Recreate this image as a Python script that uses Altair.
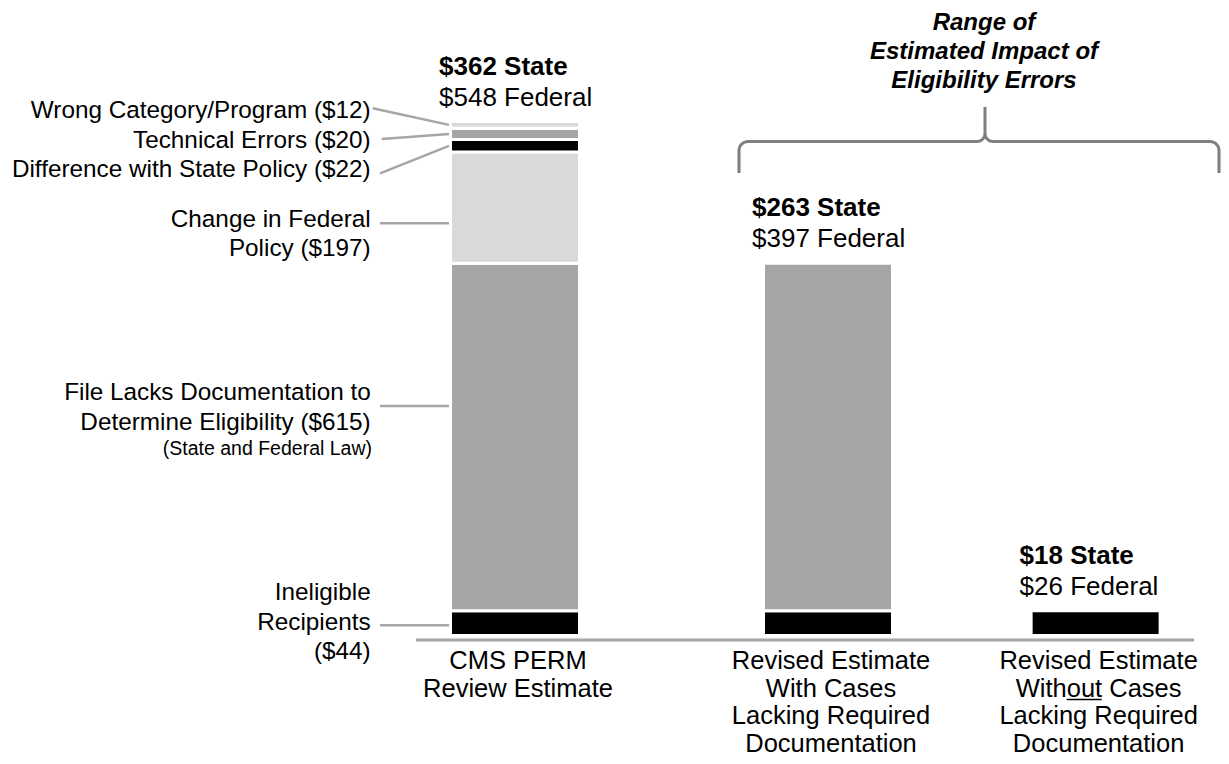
import altair as alt
import pandas as pd
import numpy as np

# ---------------- data ----------------
column_names = [
    "CMS PERM Review Estimate",
    "Revised Estimate With Cases Lacking Required Documentation",
    "Revised Estimate Without Cases Lacking Required Documentation",
]
column_labels = [
    "CMS PERM\nReview Estimate",
    "Revised Estimate\nWith Cases\nLacking Required\nDocumentation",
    "Revised Estimate\nWithout Cases\nLacking Required\nDocumentation",
]
segment_names = [
    "Ineligible Recipients",
    "File Lacks Documentation to Determine Eligibility",
    "Change in Federal Policy",
    "Difference with State Policy",
    "Technical Errors",
    "Wrong Category/Program",
]
segment_colors = ["#000000", "#a6a6a6", "#d9d9d9", "#000000", "#a6a6a6", "#d9d9d9"]
cms_perm_values = [44, 615, 197, 22, 20, 12]
with_docs_values = [44, 615]
without_docs_values = [44]
state_amounts = [362, 263, 18]
federal_amounts = [548, 397, 26]
segment_labels = [
    "Ineligible\nRecipients\n($44)",
    "File Lacks Documentation to\nDetermine Eligibility ($615)",
    "Change in Federal\nPolicy ($197)",
    "Difference with State Policy ($22)",
    "Technical Errors ($20)",
    "Wrong Category/Program ($12)",
]
law_note = "(State and Federal Law)"
brace_title = "Range of\nEstimated Impact of\nEligibility Errors"

# ---------------- layout ----------------
FONT = "Liberation Sans"
W, H = 1213, 748
col_pos = [0.0, 1.0, 1.855]          # column centres in x units
UNIT_PX = 313.0                      # pixels per x unit
CENTER0_PX = 515.0                   # page x of first column centre
ZERO_PX = 635.5                      # page y of $0
PX_PER_USD = 514.0 / 910.0
GAP = 3                              # white gap between stacked pieces
BAR_HALF = 64.5 / UNIT_PX


def xu(page_x):
    return (page_x - CENTER0_PX) / UNIT_PX


def yu(page_y):
    return (ZERO_PX - page_y) / PX_PER_USD


xs = alt.Scale(domain=[xu(8), xu(8 + W)], nice=False, zero=False)
ys = alt.Scale(domain=[yu(8 + H), yu(8)], nice=False, zero=False)

# ---------------- bar table ----------------
rows = []
for ci, vals in enumerate([cms_perm_values, with_docs_values, without_docs_values]):
    base = 0.0
    for si, v in enumerate(vals):
        rows.append(dict(column=column_names[ci], segment=segment_names[si],
                         x0=col_pos[ci] - BAR_HALF, x1=col_pos[ci] + BAR_HALF,
                         y0=base, y1=base + v, mid=base + v / 2))
        base += v
bar_df = pd.DataFrame(rows)

totals = [sum(v) for v in [cms_perm_values, with_docs_values, without_docs_values]]
col_df = pd.DataFrame(dict(
    column=column_names, label=column_labels, x=col_pos, total=totals,
    state=[f"${s} State" for s in state_amounts],
    federal=[f"${f} Federal" for f in federal_amounts],
    zero=[0] * 3,
))

# segment labels on the left (baseline page y of first line)
seg1 = bar_df[bar_df.column == column_names[0]].reset_index(drop=True)
label_baselines = [600, 400, 226.7, 176.7, 148.3, 118.3]
label_df = pd.DataFrame(dict(text=segment_labels, x=[xu(370.7)] * 6,
                             y=[yu(b) for b in label_baselines]))

# leader lines: label end (page px) -> bar end
leader_start = [(380, 625.3), (380, 406), (380, 223.3), (380, 173.3), (381.7, 139), (372.7, 108.3)]
leader_end_y = [yu(625.3), yu(406), yu(223.3), seg1.mid[3], seg1.mid[4], seg1.mid[5]]
leader_df = pd.DataFrame(dict(
    x=[xu(p[0]) for p in leader_start], y=[yu(p[1]) for p in leader_start],
    x2=[xu(449)] * 6, y2=leader_end_y,
))

# brace geometry (page px)
def arc(cx, cy, r, a0, a1, n=10):
    t = np.linspace(a0, a1, n)
    return [(cx + r * np.cos(a), cy + r * np.sin(a)) for a in t]

L, R, MID, HY, TOP, BOT = 739.0, 1219.0, 985.0, 141.5, 107.0, 173.0
pts = [(L, BOT)]
pts += arc(L + 9, HY + 9, 9, np.pi, 1.5 * np.pi)
pts += arc(MID - 8, HY - 8, 8, 0.5 * np.pi, 0.0)
pts += [(MID, TOP)]
pts += arc(MID + 8, HY - 8, 8, np.pi, 0.5 * np.pi)
pts += arc(R - 9, HY + 9, 9, 1.5 * np.pi, 2 * np.pi)
pts += [(R, BOT)]
brace_df = pd.DataFrame(dict(i=range(len(pts)), x=[xu(p[0]) for p in pts], y=[yu(p[1]) for p in pts]))

title_df = pd.DataFrame(dict(text=[brace_title], x=[xu(984)], y=[yu(30)]))
axis_df = pd.DataFrame(dict(x=[xu(416)], x2=[xu(1194)], y=[yu(640)]))

CAT_DY = 33.5           # first baseline below $0
CAT_LH = 27.5
underline_df = pd.DataFrame(dict(x=[col_pos[2] + xu(1066.5) - xu(1095.5)],
                                 x2=[col_pos[2] + xu(1101.5) - xu(1095.5)],
                                 y=[yu(ZERO_PX + CAT_DY + CAT_LH + 3)]))
note_df = pd.DataFrame(dict(text=[law_note], x=[xu(372)], y=[yu(455)]))

# ---------------- chart ----------------
X = lambda f: alt.X(f, scale=xs, axis=None)
Y = lambda f: alt.Y(f, scale=ys, axis=None)

bars = alt.Chart(bar_df).mark_rect(stroke="white", strokeWidth=GAP).encode(
    x=X("x0:Q"), x2="x1:Q", y=Y("y0:Q"), y2="y1:Q",
    color=alt.Color("segment:N", scale=alt.Scale(domain=segment_names, range=segment_colors), legend=None),
)

axis_line = alt.Chart(axis_df).mark_rule(color="#a6a6a6", strokeWidth=3).encode(
    x=X("x:Q"), x2="x2:Q", y=Y("y:Q"))

leaders = alt.Chart(leader_df).mark_rule(color="#a6a6a6", strokeWidth=2.5).encode(
    x=X("x:Q"), x2="x2:Q", y=Y("y:Q"), y2="y2:Q")

seg_text = alt.Chart(label_df).mark_text(
    align="right", baseline="alphabetic", font=FONT, fontSize=24.3, lineBreak="\n", lineHeight=29.5,
    color="black").encode(x=X("x:Q"), y=Y("y:Q"), text="text:N")

note_text = alt.Chart(note_df).mark_text(
    align="right", baseline="alphabetic", font=FONT, fontSize=19.5, color="black").encode(
    x=X("x:Q"), y=Y("y:Q"), text="text:N")

state_text = alt.Chart(col_df).mark_text(
    align="left", baseline="alphabetic", font=FONT, fontSize=26, fontWeight="bold",
    dx=-76, dy=-47, color="black").encode(x=X("x:Q"), y=Y("total:Q"), text="state:N")

federal_text = alt.Chart(col_df).mark_text(
    align="left", baseline="alphabetic", font=FONT, fontSize=26,
    dx=-76, dy=-16, color="black").encode(x=X("x:Q"), y=Y("total:Q"), text="federal:N")

cat_text = alt.Chart(col_df).mark_text(
    align="center", baseline="alphabetic", font=FONT, fontSize=25.5, lineBreak="\n",
    lineHeight=CAT_LH, dx=3, dy=CAT_DY, color="black").encode(x=X("x:Q"), y=Y("zero:Q"), text="label:N")

underline = alt.Chart(underline_df).mark_rule(color="black", strokeWidth=1.5).encode(
    x=X("x:Q"), x2="x2:Q", y=Y("y:Q"))

brace = alt.Chart(brace_df).mark_line(color="#7f7f7f", strokeWidth=3).encode(
    x=X("x:Q"), y=Y("y:Q"), order="i:Q")

title = alt.Chart(title_df).mark_text(
    align="center", baseline="alphabetic", font=FONT, fontSize=24, fontWeight="bold",
    fontStyle="italic", lineBreak="\n", lineHeight=29.2, color="black").encode(
    x=X("x:Q"), y=Y("y:Q"), text="text:N")

chart = alt.layer(
    bars, axis_line, leaders, seg_text, note_text, state_text, federal_text,
    cat_text, underline, brace, title,
).properties(width=W, height=H, padding=0, autosize="none").configure_view(stroke=None)

chart.save("out.html", embed_options={"renderer": "svg", "actions": False})
